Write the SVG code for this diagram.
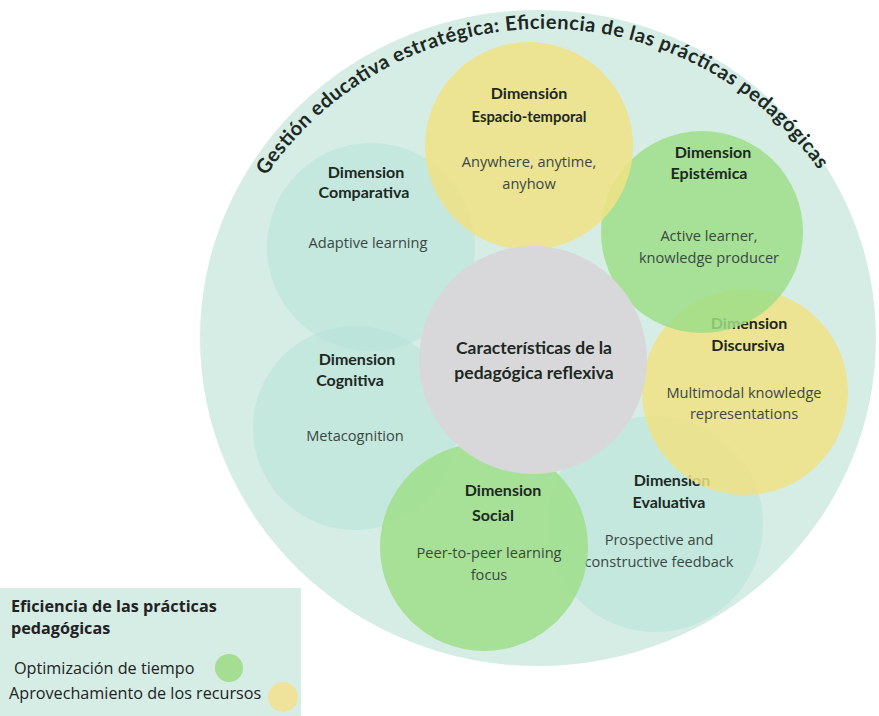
<svg xmlns="http://www.w3.org/2000/svg" width="879" height="716" viewBox="0 0 879 716">
  <style>
    .h { font-family: Lato, "Open Sans", "Liberation Sans", sans-serif; font-weight: 700; fill: #1d2823; text-anchor: middle; font-size: 16px; }
    .b { font-family: "Open Sans", "Liberation Sans", sans-serif; font-weight: 400; fill: #3b4842; text-anchor: middle; font-size: 14.6px; }
    .teal { fill: #b8e2d8; fill-opacity: 0.6; }
    .yel { fill: #f0e284; fill-opacity: 0.85; }
    .grn { fill: #9fde88; fill-opacity: 0.85; }
    .lg { font-family: "Open Sans", "Liberation Sans", sans-serif; fill: #222; font-size: 16.2px; }
  </style>
  <defs>
    <path id="arc" d="M 266 176 A 337 337 0 0 1 823 176"/>
  </defs>
  <rect width="879" height="716" fill="#ffffff"/>
  <g id="outer">
    <ellipse cx="538" cy="338" rx="338" ry="328" fill="#d6ede6"/>
    <text class="h" style="font-size:20px;text-anchor:start"><textPath href="#arc" textLength="648" lengthAdjust="spacing">Gestión educativa estratégica: Eficiencia de las prácticas pedagógicas</textPath></text>
  </g>
  <g id="comparativa">
    <circle class="teal" cx="371" cy="247" r="104"/>
    <text class="h" x="366" y="178">Dimension</text>
    <text class="h" x="364" y="198">Comparativa</text>
    <text class="b" x="368" y="248">Adaptive learning</text>
  </g>
  <g id="cognitiva">
    <circle class="teal" cx="355" cy="428" r="102"/>
    <text class="h" x="357" y="365">Dimension</text>
    <text class="h" x="350" y="386">Cognitiva</text>
    <text class="b" x="355" y="441">Metacognition</text>
  </g>
  <g id="evaluativa">
    <circle class="teal" cx="655" cy="524" r="108"/>
    <text class="h" x="672" y="486">Dimension</text>
    <text class="h" x="669" y="508">Evaluativa</text>
    <text class="b" x="659" y="545">Prospective and</text>
    <text class="b" x="659" y="567">constructive feedback</text>
  </g>
  <g id="social">
    <circle class="grn" cx="484" cy="547" r="104"/>
    <text class="h" x="503" y="496">Dimension</text>
    <text class="h" x="493" y="521">Social</text>
    <text class="b" x="489" y="558">Peer-to-peer learning</text>
    <text class="b" x="489" y="580">focus</text>
  </g>
  <g id="discursiva">
    <circle class="yel" cx="745" cy="392" r="103"/>
    <text class="h" x="749" y="329">Dimension</text>
    <text class="h" x="748" y="351">Discursiva</text>
    <text class="b" x="744" y="398">Multimodal knowledge</text>
    <text class="b" x="744" y="419">representations</text>
  </g>
  <g id="epistemica">
    <circle class="grn" cx="702" cy="232" r="101"/>
    <text class="h" x="713" y="158">Dimension</text>
    <text class="h" x="709" y="179">Epistémica</text>
    <text class="b" x="709" y="241">Active learner,</text>
    <text class="b" x="709" y="263">knowledge producer</text>
  </g>
  <g id="espacio">
    <circle class="yel" cx="529" cy="146" r="104"/>
    <text class="h" x="529" y="99">Dimensión</text>
    <text class="h" x="529" y="122" style="font-size:14.8px">Espacio-temporal</text>
    <text class="b" x="529" y="167">Anywhere, anytime,</text>
    <text class="b" x="529" y="189">anyhow</text>
  </g>
  <g id="center">
    <circle cx="533" cy="360" r="114" fill="#d8d8da"/>
    <text class="h" x="534" y="354" style="font-size:17.5px">Características de la</text>
    <text class="h" x="534" y="379" style="font-size:17.5px">pedagógica reflexiva</text>
  </g>
  <g id="connectors"></g>
  <g id="legend">
    <rect x="0" y="588" width="301" height="128" fill="#d6ede6"/>
    <text class="lg" x="11" y="612" font-weight="700">Eficiencia de las prácticas</text>
    <text class="lg" x="11" y="634" font-weight="700">pedagógicas</text>
    <text class="lg" x="14" y="674">Optimización de tiempo</text>
    <circle cx="229" cy="668" r="14" fill="#a5dd93"/>
    <text class="lg" x="9" y="699">Aprovechamiento de los recursos</text>
    <circle cx="283" cy="697" r="15" fill="#efe29a"/>
  </g>
</svg>
